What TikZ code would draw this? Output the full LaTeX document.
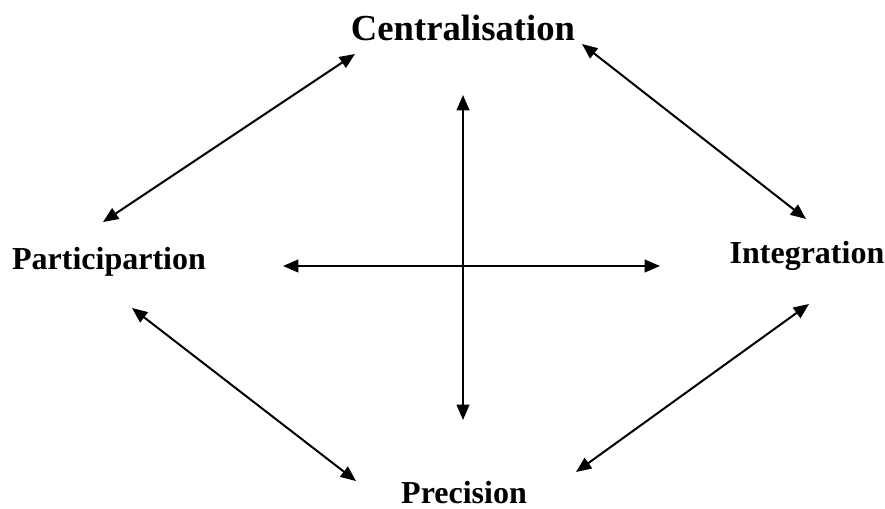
\documentclass[tikz,border=0pt]{standalone}
\usepackage{fontspec}
\setmainfont{Liberation Serif}
\usetikzlibrary{arrows.meta}

\begin{document}
\begin{tikzpicture}
[
	label/.style={font=\bfseries\fontsize{24}{28}\selectfont,inner sep=0pt},
	biglabel/.style={label,font=\bfseries\fontsize{27.5}{32}\selectfont},
	link/.style={{Triangle[length=11.5pt,width=9.5pt]}-{Triangle[length=11.5pt,width=9.5pt]},line width=1.5pt},
	x=0.75pt, y=-0.75pt
]

	\useasboundingbox (0,0) rectangle (885,509);

	% labels
	\node[biglabel] (cen) at (463,28) {Centralisation};
	\node[label] (par) at (109,262) {Participartion};
	\node[label] (int) at (807,256) {Integration};
	\node[label] (pre) at (464,493) {Precision};

	% arrow ends
	\coordinate (cenl) at (355,54);
	\coordinate (cenr) at (582,44);
	\coordinate (part) at (103,222);
	\coordinate (parb) at (132,308);
	\coordinate (intt) at (806,219);
	\coordinate (intb) at (809,304);
	\coordinate (prel) at (356,481);
	\coordinate (prer) at (576,472);

	\coordinate (up) at (463,95);
	\coordinate (down) at (463,420);
	\coordinate (left) at (283,266);
	\coordinate (right) at (660,266);

	% outer links
	\draw[link] (part) -- (cenl);
	\draw[link] (cenr) -- (intt);
	\draw[link] (parb) -- (prel);
	\draw[link] (prer) -- (intb);

	% cross
	\draw[link] (up) -- (down);
	\draw[link] (left) -- (right);

\end{tikzpicture}
\end{document}
